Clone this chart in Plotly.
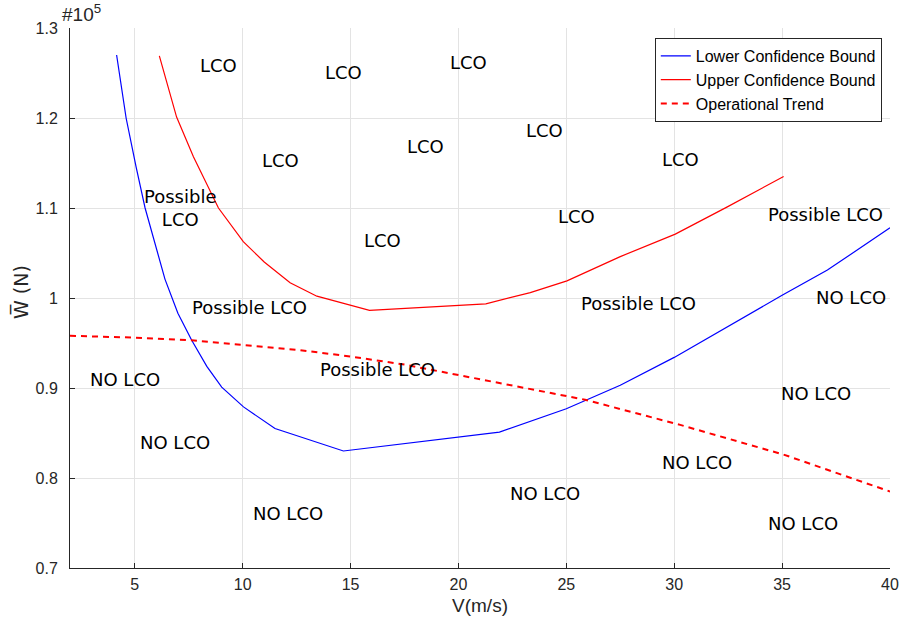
import plotly.graph_objects as go

# Flight speed V (m/s) and weight W (in units of 1e5 N)
lower_V = [4.16, 4.6, 5.06, 5.48, 6.4, 7.0, 7.64, 8.34, 9.03, 10.04, 11.5, 14.67,
           21.9, 25.0, 27.5, 30.0, 35.0, 37.1, 40.0]
lower_W = [1.270, 1.200, 1.146, 1.100, 1.021, 0.983, 0.953, 0.924, 0.901, 0.879, 0.855,
           0.830, 0.851, 0.877, 0.903, 0.934, 1.003, 1.031, 1.078]

upper_V = [6.14, 6.94, 7.72, 8.49, 8.88, 10.03, 11.0, 12.2, 13.44, 15.88, 21.27, 23.33,
           25.03, 27.5, 30.05, 32.44, 35.07]
upper_W = [1.269, 1.201, 1.157, 1.119, 1.100, 1.0626, 1.040, 1.017, 1.002, 0.9863, 0.9935,
           1.006, 1.019, 1.046, 1.071, 1.101, 1.135]

trend_V = [2.0, 5.0, 7.64, 10.0, 12.66, 15.0, 17.5, 20.08, 23.33, 25.87, 30.28, 35.07, 40.0]
trend_W = [0.958, 0.956, 0.953, 0.948, 0.942, 0.935, 0.926, 0.914, 0.899, 0.887, 0.859,
           0.826, 0.785]

# Region labels
region_text = ["LCO", "LCO", "LCO", "LCO", "LCO", "LCO", "LCO", "Possible<br>LCO", "LCO",
               "LCO", "Possible LCO", "Possible LCO", "Possible LCO", "NO LCO",
               "Possible LCO", "NO LCO", "NO LCO", "NO LCO", "NO LCO", "NO LCO",
               "NO LCO", "NO LCO"]
region_V = [8.86, 14.66, 20.45, 11.74, 18.46, 23.98, 30.28, 7.1, 25.46, 16.5, 37.0, 10.34,
            28.33, 38.2, 16.23, 4.55, 36.58, 6.87, 31.07, 24.02, 12.1, 35.98]
region_W = [1.258, 1.251, 1.262, 1.153, 1.168, 1.186, 1.154, 1.10, 1.091, 1.064, 1.093,
            0.990, 0.994, 1.001, 0.921, 0.910, 0.894, 0.840, 0.817, 0.783, 0.761, 0.749]

x_ticks = [5, 10, 15, 20, 25, 30, 35, 40]
y_ticks = [0.7, 0.8, 0.9, 1.0, 1.1, 1.2, 1.3]
y_tick_text = ["0.7", "0.8", "0.9", "1", "1.1", "1.2", "1.3"]

axis_color = "#262626"
sans = "Liberation Sans, Arial, sans-serif"
tick_font = dict(family=sans, size=16, color=axis_color)

fig = go.Figure()
fig.add_trace(go.Scatter(x=lower_V, y=lower_W, mode="lines", name="Lower Confidence Bound",
                         line=dict(color="#0000ff", width=1.2)))
fig.add_trace(go.Scatter(x=upper_V, y=upper_W, mode="lines", name="Upper Confidence Bound",
                         line=dict(color="#ff0000", width=1.2)))
fig.add_trace(go.Scatter(x=trend_V, y=trend_W, mode="lines", name="Operational Trend",
                         line=dict(color="#ff0000", width=2, dash="6px,5px")))

for t, vx, wy in zip(region_text, region_V, region_W):
    fig.add_annotation(x=vx, y=wy, text=t, showarrow=False, xref="x", yref="y",
                       font=dict(family="DejaVu Sans, sans-serif", size=18, color="#000000"),
                       align="center")

# exponent marker above the y axis
fig.add_annotation(xref="paper", yref="paper", x=0.0, y=1.0, xanchor="left", yanchor="bottom",
                   xshift=-10, yshift=1, showarrow=False, text="#10<sup>5</sup>",
                   font=dict(family=sans, size=19, color=axis_color))

# y-axis title
fig.add_annotation(xref="paper", yref="paper", x=0.0, y=0.5, xanchor="center",
                   yanchor="middle", xshift=-50, yshift=6, showarrow=False, textangle=-90,
                   text="W\u0305 (N)",
                   font=dict(family="DejaVu Sans, sans-serif", size=19, color=axis_color))

fig.update_layout(
    width=904, height=625,
    margin=dict(l=70, r=14, t=28, b=57, autoexpand=False),
    paper_bgcolor="white", plot_bgcolor="white",
    showlegend=True,
    legend=dict(x=0.990, y=0.9815, xanchor="right", yanchor="top",
                bgcolor="white", bordercolor=axis_color, borderwidth=1,
                font=dict(family=sans, size=16, color="#000000"),
                tracegroupgap=0, itemwidth=30),
    xaxis=dict(range=[2, 40], tickvals=x_ticks, ticks="inside", ticklen=5,
               tickcolor=axis_color, tickfont=tick_font, showline=True, linecolor=axis_color,
               linewidth=1, showgrid=True, gridcolor="#e3e3e3", gridwidth=1, zeroline=False,
               automargin=False, ticklabelstandoff=2,
               title=dict(text="V(m/s)", font=dict(family=sans, size=19, color=axis_color),
                          standoff=6)),
    yaxis=dict(range=[0.7, 1.3], tickvals=y_ticks, ticktext=y_tick_text, ticks="inside",
               ticklen=5, tickcolor=axis_color, tickfont=tick_font, showline=True,
               linecolor=axis_color, linewidth=1, showgrid=True, gridcolor="#e3e3e3",
               gridwidth=1, zeroline=False, automargin=False, ticklabelstandoff=8),
)

fig.write_html("out.html")
